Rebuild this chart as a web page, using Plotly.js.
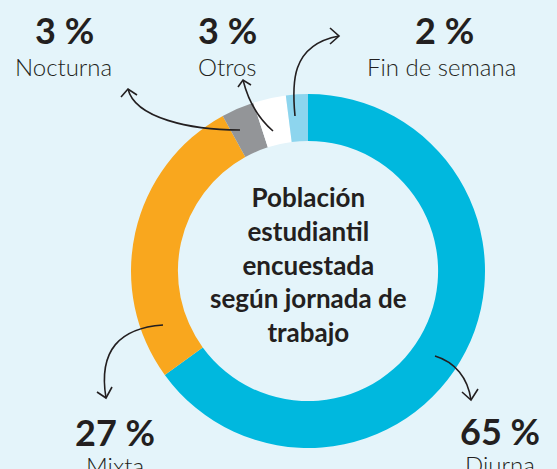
<!DOCTYPE html>
<html>
<head>
<meta charset="utf-8">
<script src="https://cdn.plot.ly/plotly-3.0.1.min.js"></script>
<style>
html,body{margin:0;padding:0;background:#e4f4fa;}
#chart{width:557px;height:469px;}
</style>
</head>
<body>
<div id="chart"></div>
<script>
// Data
const labels = ["Diurna", "Mixta", "Nocturna", "Otros", "Fin de semana"];
const values = [65, 27, 3, 3, 2];
const colors = ["#00b8de", "#f9a71e", "#939598", "#ffffff", "#8dd5ee"];
const centerTitle = ["Población", "estudiantil", "encuestada", "según jornada de", "trabajo"];

const W = 557, H = 469;
const px = x => x / W;
const py = y => 1 - y / H;

// label placement (pixel centres) — layout only
const labelPos = {
  "Nocturna": {pct:[64, 30], name:[63, 67]},
  "Otros": {pct:[227, 30], name:[227, 67]},
  "Fin de semana": {pct:[444, 30], name:[441, 67]},
  "Mixta": {pct:[115, 432], name:[115, 465]},
  "Diurna": {pct:[500, 431], name:[500, 464]}
};

const annotations = [];
labels.forEach((lab, i) => {
  const p = labelPos[lab];
  annotations.push({
    xref:'paper', yref:'paper', x:px(p.pct[0]), y:py(p.pct[1]),
    xanchor:'center', yanchor:'middle', showarrow:false,
    text:'<b>' + values[i] + ' %</b>',
    font:{family:'Lato, sans-serif', size:36, color:'#231f20'}
  });
  annotations.push({
    xref:'paper', yref:'paper', x:px(p.name[0]), y:py(p.name[1]),
    xanchor:'center', yanchor:'middle', showarrow:false,
    text:lab,
    font:{family:'Lato, sans-serif', size:24, color:'#231f20', weight:300}
  });
});
annotations.push({
  xref:'paper', yref:'paper', x:px(308), y:py(264),
  xanchor:'center', yanchor:'middle', showarrow:false,
  text:'<b>' + centerTitle.join('<br>') + '</b>',
  font:{family:'Lato, sans-serif', size:26, color:'#231f20'}
});

// curved arrows (pixel coords converted to paper)
function P(pts) {
  return pts.map(p => (typeof p === 'string') ? p : (px(p[0]).toFixed(5) + ',' + py(p[1]).toFixed(5))).join(' ');
}
const arrowPaths = [
  // Nocturna
  P(['M',[240,130],'C',[190,130],[135,118],[128,89]]),
  P(['M',[121,97],'L',[128,89],'L',[137,95]]),
  // Otros
  P(['M',[273,131],'C',[258,118],[248,100],[243,80]]),
  P(['M',[238,87],'L',[243,80],'L',[251,85]]),
  // Fin de semana
  P(['M',[295,116],'C',[292,85],[290,45],[339,36]]),
  P(['M',[330,28],'L',[339,36],'L',[330,44]]),
  // Mixta
  P(['M',[163,325],'C',[120,328],[98,350],[106,398]]),
  P(['M',[97,392],'L',[106,398],'L',[112,387]]),
  // Diurna
  P(['M',[435,356],'C',[455,362],[468,378],[471,400]]),
  P(['M',[462,392],'L',[471,400],'L',[478,389]])
];
const shapes = arrowPaths.map(d => ({
  type:'path', xref:'paper', yref:'paper', path:d,
  line:{color:'#231f20', width:1.6}
}));

const cx = 308, cy = 271, R = 177;
const trace = {
  type:'pie',
  labels: labels,
  values: values,
  marker:{colors: colors, line:{width:0}},
  hole: 0.735,
  sort:false,
  direction:'clockwise',
  rotation:0,
  textinfo:'none',
  hoverinfo:'label+percent',
  showlegend:false,
  domain:{x:[px(cx-R), px(cx+R)], y:[py(cy+R), py(cy-R)]}
};

const layout = {
  width:W, height:H,
  margin:{l:0,r:0,t:0,b:0},
  paper_bgcolor:'#e4f4fa',
  plot_bgcolor:'#e4f4fa',
  showlegend:false,
  annotations: annotations,
  shapes: shapes
};

Plotly.newPlot('chart', [trace], layout, {displayModeBar:false, staticPlot:true});
</script>
</body>
</html>
